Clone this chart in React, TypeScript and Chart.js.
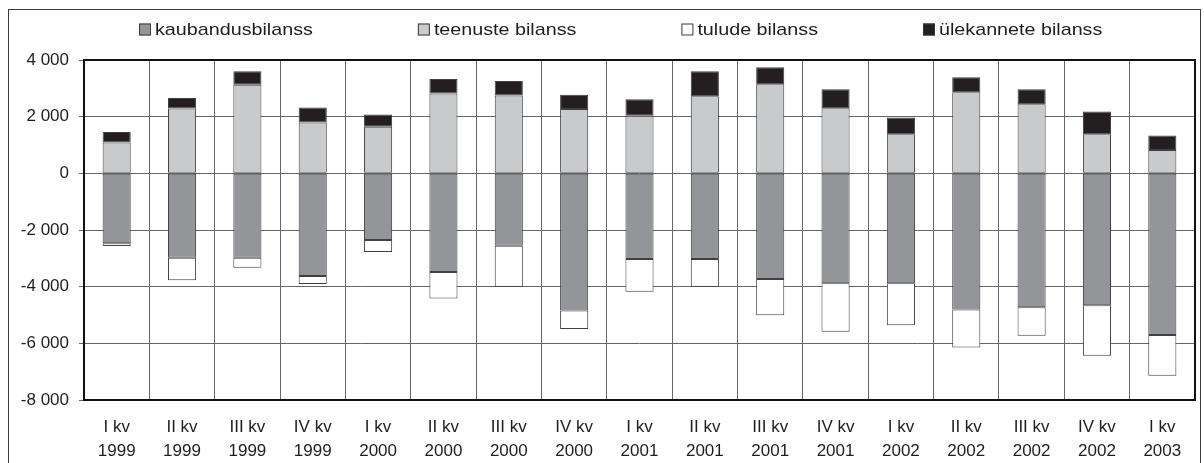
import React, { useEffect, useRef } from 'react';
import { Chart, registerables } from 'chart.js';

Chart.register(...registerables);

const quarters = ['I kv', 'II kv', 'III kv', 'IV kv', 'I kv', 'II kv', 'III kv', 'IV kv', 'I kv', 'II kv', 'III kv', 'IV kv', 'I kv', 'II kv', 'III kv', 'IV kv', 'I kv'];
const years = ['1999', '1999', '1999', '1999', '2000', '2000', '2000', '2000', '2001', '2001', '2001', '2001', '2002', '2002', '2002', '2002', '2003'];

const seriesNames = ['kaubandusbilanss', 'teenuste bilanss', 'tulude bilanss', 'ülekannete bilanss'];
const tradeBalance = [-2470, -2980, -2980, -3620, -2350, -3480, -2560, -4840, -3020, -3020, -3730, -3880, -3880, -4810, -4730, -4660, -5710];
const servicesBalance = [1090, 2290, 3130, 1790, 1640, 2820, 2750, 2270, 2030, 2720, 3140, 2300, 1380, 2860, 2440, 1380, 820];
const incomeBalance = [-95, -790, -355, -285, -430, -935, -1440, -650, -1155, -980, -1280, -1710, -1485, -1340, -1000, -1775, -1430];
const transfersBalance = [365, 370, 470, 530, 440, 510, 510, 505, 585, 880, 600, 670, 590, 530, 530, 800, 515];

const yMin = -8000;
const yMax = 4000;
const yStep = 2000;

const seriesColors = ['#939598', '#C9CACC', '#FFFFFF', '#231F20'];

const FONT_FAMILY = '"Liberation Sans", Arial, Helvetica, sans-serif';
const TEXT_COLOR = '#1e1e1e';
const GRID_COLOR = '#666666';

function formatThousands(v: number): string {
  const sign = v < 0 ? '-' : '';
  const s = String(Math.abs(Math.round(v)));
  return sign + s.replace(/\B(?=(\d{3})+(?!\d))/g, ' ');
}

const framePlugin = {
  id: 'framePlugin',
  beforeDraw(chart: any) {
    const ctx = chart.ctx;
    ctx.save();
    ctx.fillStyle = '#ffffff';
    ctx.fillRect(0, 0, chart.width, chart.height);
    ctx.strokeStyle = '#3c3c3c';
    ctx.lineWidth = 1;
    ctx.strokeRect(8.5, 9.5, chart.width - 12, chart.height + 20);
    ctx.restore();
  },
  afterDatasetsDraw(chart: any) {
    const { ctx, chartArea } = chart;
    ctx.save();
    ctx.strokeStyle = '#111111';
    ctx.lineWidth = 2;
    ctx.strokeRect(chartArea.left, chartArea.top, chartArea.right - chartArea.left, chartArea.bottom - chartArea.top);
    ctx.restore();
  },
  afterDraw(chart: any) {
    const ctx = chart.ctx;
    const datasets = chart.data.datasets;
    ctx.save();
    ctx.font = `17px ${FONT_FAMILY}`;
    ctx.textBaseline = 'middle';
    const stretch = 1.16;
    const box = 12;
    const gapText = 4;
    const gapItem = 105;
    const widths = datasets.map((d: any) => box + gapText + ctx.measureText(d.label).width * stretch);
    const total = widths.reduce((a: number, b: number) => a + b, 0) + gapItem * (datasets.length - 1);
    const centerX = 621;
    let x = Math.round(centerX - total / 2);
    const yMid = 29.5;
    datasets.forEach((d: any, i: number) => {
      ctx.fillStyle = d.backgroundColor;
      ctx.fillRect(x, yMid - box / 2, box, box);
      ctx.strokeStyle = '#3a3a3a';
      ctx.lineWidth = 1;
      ctx.strokeRect(x + 0.5, yMid - box / 2 + 0.5, box - 1, box - 1);
      ctx.fillStyle = TEXT_COLOR;
      ctx.save();
      ctx.translate(x + box + gapText, yMid + 1);
      ctx.scale(stretch, 1);
      ctx.fillText(d.label, 0, 0);
      ctx.restore();
      x += widths[i] + gapItem;
    });
    ctx.restore();
  },
};

export default function App() {
  const canvasRef = useRef<HTMLCanvasElement | null>(null);

  useEffect(() => {
    const canvas = canvasRef.current;
    if (!canvas) return;
    const labels = quarters.map((q, i) => [q, years[i]]);
    const values = [tradeBalance, servicesBalance, incomeBalance, transfersBalance];
    const chart = new Chart(canvas, {
      type: 'bar',
      data: {
        labels,
        datasets: seriesNames.map((name, i) => ({
          label: name,
          data: values[i],
          backgroundColor: seriesColors[i],
          borderColor: '#404040',
          borderWidth: 1,
          borderSkipped: false,
          barPercentage: 0.43,
          categoryPercentage: 1,
        })),
      },
      options: {
        responsive: false,
        animation: false,
        events: [],
        layout: { padding: { top: 60, right: 9, left: 0, bottom: 0 } },
        plugins: {
          legend: { display: false },
          tooltip: { enabled: false },
          title: { display: false },
        },
        scales: {
          x: {
            stacked: true,
            offset: true,
            grid: {
              display: true,
              offset: true,
              color: GRID_COLOR,
              lineWidth: 1,
              drawTicks: false,
            },
            border: { display: false },
            ticks: {
              color: TEXT_COLOR,
              font: { family: FONT_FAMILY, size: 17, lineHeight: 1.38 },
              padding: 16,
              maxRotation: 0,
              autoSkip: false,
            },
            afterFit: (scale: any) => {
              scale.height = 63;
            },
          },
          y: {
            stacked: true,
            min: yMin,
            max: yMax,
            grid: {
              color: GRID_COLOR,
              lineWidth: 1,
              drawTicks: true,
              tickLength: 5,
            },
            border: { display: false },
            ticks: {
              stepSize: yStep,
              color: TEXT_COLOR,
              font: { family: FONT_FAMILY, size: 17 },
              padding: 10,
              callback: (v: any) => formatThousands(Number(v)),
            },
            afterFit: (scale: any) => {
              scale.width = 84;
            },
          },
        },
      },
      plugins: [framePlugin],
    });
    return () => chart.destroy();
  }, []);

  return (
    <div style={{ position: 'fixed', left: 0, top: 0, width: 1204, height: 463, background: '#fff' }}>
      <canvas ref={canvasRef} width={1204} height={463} style={{ display: 'block', width: 1204, height: 463 }} />
    </div>
  );
}
